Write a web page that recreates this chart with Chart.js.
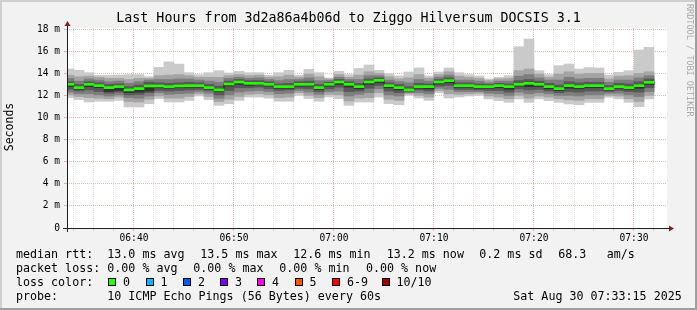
<!DOCTYPE html>
<html><head><meta charset="utf-8">
<script src="https://cdn.jsdelivr.net/npm/chart.js@4.4.1/dist/chart.umd.min.js"></script>
<style>html,body{margin:0;padding:0;background:#f2f2f2}canvas{display:block}</style>
</head><body>
<canvas id="c" width="697" height="310"></canvas>
<script>
// ---- data (ms) ----
const minutes = ['06:33','06:34','06:35','06:36','06:37','06:38','06:39','06:40','06:41','06:42',
 '06:43','06:44','06:45','06:46','06:47','06:48','06:49','06:50','06:51','06:52',
 '06:53','06:54','06:55','06:56','06:57','06:58','06:59','07:00','07:01','07:02',
 '07:03','07:04','07:05','07:06','07:07','07:08','07:09','07:10','07:11','07:12',
 '07:13','07:14','07:15','07:16','07:17','07:18','07:19','07:20','07:21','07:22',
 '07:23','07:24','07:25','07:26','07:27','07:28','07:29','07:30','07:31'];
const median = [13.06,12.76,13.06,12.94,12.76,12.85,12.55,12.67,12.91,12.91,
 12.85,12.91,12.94,12.94,12.76,12.55,13.09,13.27,13.15,13.15,
 13.06,12.85,12.85,13.06,13.06,12.76,13.06,13.27,13.06,12.85,
 13.27,13.42,12.94,12.76,12.55,12.85,12.85,13.27,13.39,12.94,
 12.94,12.85,12.85,12.94,12.85,13.06,13.15,13.06,12.85,12.67,
 12.94,12.85,12.94,12.94,12.67,12.85,12.76,12.94,13.24];
const ping1 = [11.85,11.67,11.45,11.52,11.52,11.60,11.00,11.00,11.30,11.76,
 11.45,11.45,11.60,12.00,11.67,11.15,11.30,11.60,11.90,11.90,
 11.80,11.52,11.52,12.06,11.76,11.52,11.91,11.76,11.15,11.45,
 11.45,11.91,11.30,11.20,12.06,11.82,11.60,12.30,11.82,11.91,
 12.00,12.06,11.73,11.58,11.42,11.73,11.42,11.73,11.58,11.42,
 11.27,11.21,11.42,11.42,11.88,11.73,11.42,11.03,11.73];
const ping2 = [12.10,11.95,11.85,11.80,11.75,11.90,11.50,11.45,11.70,12.00,
 11.80,11.80,11.95,12.20,11.95,11.50,11.70,11.95,12.15,12.20,
 12.10,11.85,11.90,12.30,12.05,11.85,12.15,12.10,11.55,11.80,
 11.85,12.30,11.70,11.60,12.20,12.05,11.90,12.50,12.20,12.15,
 12.20,12.25,12.00,11.90,11.75,12.05,11.80,12.00,11.90,11.75,
 11.65,11.60,11.75,11.75,12.05,12.00,11.75,11.50,12.05];
const ping3 = [12.35,12.20,12.20,12.10,12.00,12.10,11.85,11.80,12.00,12.30,
 12.15,12.20,12.25,12.40,12.25,11.80,12.10,12.35,12.45,12.50,
 12.40,12.20,12.25,12.50,12.35,12.15,12.40,12.45,12.00,12.15,
 12.30,12.65,12.10,12.00,12.30,12.30,12.20,12.70,12.60,12.40,
 12.40,12.40,12.25,12.20,12.05,12.35,12.20,12.30,12.20,12.05,
 12.05,12.00,12.10,12.10,12.25,12.25,12.10,11.95,12.40];
const ping4 = [12.60,12.45,12.55,12.40,12.25,12.35,12.10,12.15,12.30,12.50,
 12.45,12.50,12.55,12.60,12.50,12.10,12.50,12.75,12.75,12.80,
 12.65,12.50,12.55,12.70,12.65,12.40,12.65,12.80,12.40,12.45,
 12.70,12.95,12.45,12.30,12.40,12.55,12.45,12.90,12.95,12.60,
 12.60,12.55,12.50,12.50,12.35,12.65,12.55,12.60,12.45,12.30,
 12.40,12.35,12.45,12.45,12.40,12.50,12.40,12.35,12.75];
const ping5 = [12.85,12.62,12.85,12.75,12.40,12.50,12.30,12.35,12.45,12.75,
 12.70,12.75,12.80,12.80,12.62,12.40,12.90,13.05,12.95,13.00,
 12.90,12.70,12.70,12.90,12.90,12.60,12.90,13.05,12.80,12.65,
 13.05,13.20,12.75,12.55,12.48,12.70,12.65,13.10,13.20,12.80,
 12.80,12.70,12.70,12.75,12.60,12.90,12.85,12.85,12.65,12.50,
 12.70,12.65,12.75,12.75,12.55,12.70,12.60,12.70,13.05];
const ping6 = [13.10,12.80,13.10,12.98,12.80,12.88,12.58,12.70,12.95,12.95,
 12.90,12.95,12.98,12.98,12.80,12.60,13.12,13.30,13.18,13.18,
 13.10,12.88,12.88,13.10,13.10,12.80,13.10,13.30,13.10,12.88,
 13.30,13.45,12.98,12.80,12.58,12.88,12.88,13.30,13.42,12.98,
 12.98,12.88,12.88,12.98,12.88,13.10,13.18,13.10,12.88,12.70,
 12.98,12.88,12.98,12.98,12.70,12.88,12.80,12.98,13.28];
const ping7 = [13.30,13.05,13.30,13.20,13.05,13.10,12.85,13.00,13.25,13.20,
 13.15,13.20,13.25,13.20,13.05,12.90,13.35,13.50,13.40,13.40,
 13.30,13.10,13.15,13.30,13.35,13.05,13.25,13.50,13.30,13.15,
 13.55,13.65,13.20,13.05,12.85,13.15,13.10,13.50,13.65,13.20,
 13.20,13.10,13.05,13.15,13.10,13.40,13.50,13.35,13.15,13.00,
 13.30,13.20,13.25,13.25,12.95,13.15,13.10,13.30,13.55];
const ping8 = [13.60,13.35,13.55,13.45,13.30,13.35,13.15,13.30,13.45,13.50,
 13.50,13.55,13.55,13.45,13.35,13.25,13.60,13.70,13.60,13.65,
 13.50,13.40,13.50,13.50,13.65,13.40,13.40,13.70,13.50,13.50,
 13.85,13.85,13.45,13.30,13.20,13.50,13.35,13.70,13.90,13.45,
 13.45,13.35,13.20,13.35,13.35,13.80,13.95,13.65,13.45,13.45,
 13.70,13.55,13.60,13.60,13.25,13.45,13.45,13.65,13.85];
const ping9 = [13.90,13.75,13.80,13.70,13.60,13.60,13.50,13.60,13.60,13.85,
 13.90,13.95,13.85,13.70,13.70,13.70,13.85,13.95,13.85,13.90,
 13.70,13.75,13.90,13.70,14.00,13.75,13.55,13.95,13.70,13.90,
 14.20,14.05,13.75,13.55,13.65,13.95,13.60,13.95,14.20,13.80,
 13.70,13.60,13.40,13.55,13.60,14.30,14.45,14.00,13.70,14.00,
 14.20,14.00,14.05,14.05,13.55,13.80,13.85,14.05,14.20];
const ping10 = [14.45,14.33,14.12,13.88,13.88,13.90,13.94,13.94,13.75,14.60,
 15.10,14.90,14.12,13.94,14.12,14.30,14.09,14.24,14.12,14.12,
 13.88,14.12,14.33,13.88,14.42,14.12,13.64,14.24,13.94,14.50,
 14.82,14.33,14.03,13.82,14.18,14.55,13.82,14.18,14.55,14.12,
 13.94,13.82,13.55,13.70,13.85,16.48,17.18,14.30,13.94,14.76,
 14.91,14.45,14.58,14.55,13.90,14.15,14.30,16.18,16.42];

const xTickLabels = ['06:40','06:50','07:00','07:10','07:20','07:30'];
const yTickValues = [2,4,6,8,10,12,14,16,18,0];
const yTickLabels = ['2 m','4 m','6 m','8 m','10 m','12 m','14 m','16 m','18 m','0'];
const windowStart = '06:33:18';
const windowMinutes = 60;
const yMax = 18.18;

const titleText = 'Last Hours from 3d2a86a4b06d to Ziggo Hilversum DOCSIS 3.1';
const rttRow = ['median rtt:','13.0 ms avg','13.5 ms max','12.6 ms min','13.2 ms now','0.2 ms sd','68.3','am/s'];
const lossRow = ['packet loss:','0.00 % avg','0.00 % max','0.00 % min','0.00 % now'];
const lossLabels = ['0','1','2','3','4','5','6-9','10/10'];
const lossColors = ['#26ff00','#00b8ff','#0059ff','#7e00ff','#ff00ea','#ff5500','#ff0000','#a10000'];
const probeRow = ['probe:','10 ICMP Echo Pings (56 Bytes) every 60s','Sat Aug 30 07:33:15 2025'];

// ---- helpers ----
const toMin = s => { const p = s.split(':').map(Number); return p[0]*60 + p[1] + (p[2]||0)/60; };
const xMin = toMin(windowStart), xMax = xMin + windowMinutes;
const centers = minutes.map(m => toMin(m) + 0.5);
const xGrid = [];
for (let t = Math.ceil(xMin/2)*2; t < xMax; t += 2) xGrid.push(t);
const xLabelMap = {};
xTickLabels.forEach(l => { xLabelMap[Math.round(toMin(l))] = l; });
const yLabelMap = {};
yTickValues.forEach((v,i) => { yLabelMap[v] = yTickLabels[i]; });
const yGrid = [];
for (let v = 0; v <= Math.floor(yMax); v++) yGrid.push(v);

const GRID = 'rgba(143,143,143,0.32)';
const MGRID = 'rgba(222,79,79,0.42)';
const FONT = '"DejaVu Sans Mono", monospace';
const MEDIAN_HALF = 0.09;

const band = (lo, hi, color, order) => ({
  type: 'bar', grouped: false, barPercentage: 1, categoryPercentage: 1,
  borderWidth: 0, clip: 0, backgroundColor: color, order,
  data: centers.map((x, i) => ({ x, y: [lo[i], hi[i]] }))
});

const datasets = [
  band(ping1, ping10, '#cacaca', 10),
  band(ping2, ping9, '#a4a4a4', 9),
  band(ping3, ping8, '#7e7e7e', 8),
  band(ping4, ping7, '#585858', 7),
  band(ping5, ping6, '#323232', 6),
  { type: 'line', order: 2, stepped: 'middle', borderColor: '#202020', borderWidth: 1,
    pointRadius: 0, fill: false, data: centers.map((x, i) => ({ x, y: median[i] })) },
  { type: 'bar', order: 1, grouped: false, barPercentage: 1, categoryPercentage: 1,
    borderWidth: 0, clip: 0, backgroundColor: '#26ff00',
    data: centers.map((x, i) => ({ x, y: [median[i] - MEDIAN_HALF, median[i] + MEDIAN_HALF] })) }
];

const decor = {
  id: 'decor',
  beforeDraw(chart) {
    const c = chart.ctx, a = chart.chartArea, W = chart.width, H = chart.height;
    c.save();
    c.fillStyle = '#f2f2f2'; c.fillRect(0, 0, W, H);
    c.fillStyle = '#cfcfcf'; c.fillRect(0, 0, W, 2); c.fillRect(0, 0, 2, H);
    c.fillStyle = '#9e9e9e'; c.fillRect(0, H-2, W, 2); c.fillRect(W-2, 0, 2, H);
    c.fillStyle = '#ffffff'; c.fillRect(a.left, a.top, a.right - a.left, a.bottom - a.top);
    c.restore();
  },
  afterDraw(chart) {
    const c = chart.ctx, a = chart.chartArea;
    c.save();
    // axes
    c.strokeStyle = '#1f1f1f'; c.lineWidth = 1;
    c.beginPath();
    c.moveTo(a.left - 4, a.bottom + 0.5); c.lineTo(a.right + 4, a.bottom + 0.5);
    c.moveTo(a.left + 0.5, a.bottom + 4); c.lineTo(a.left + 0.5, a.top - 4);
    c.stroke();
    c.fillStyle = '#801f1f';
    c.beginPath();
    c.moveTo(a.right + 2, a.bottom - 2.5); c.lineTo(a.right + 2, a.bottom + 3.5); c.lineTo(a.right + 7, a.bottom + 0.5); c.closePath(); c.fill();
    c.beginPath();
    c.moveTo(a.left - 2.5, a.top - 2); c.lineTo(a.left + 3.5, a.top - 2); c.lineTo(a.left + 0.5, a.top - 7); c.closePath(); c.fill();
    // title
    c.fillStyle = '#000';
    c.font = '13.3px ' + FONT; c.textAlign = 'center'; c.textBaseline = 'alphabetic';
    c.fillText(titleText, chart.width / 2, 22);
    // y title
    c.save(); c.translate(10.5, 127); c.rotate(-Math.PI/2);
    c.font = '11.5px ' + FONT; c.textBaseline = 'middle'; c.fillText('Seconds', 0, 0);
    c.restore();
    // watermark
    c.save(); c.translate(689, 4); c.rotate(Math.PI/2);
    c.font = '8.5px ' + FONT; c.textAlign = 'left'; c.textBaseline = 'middle'; c.fillStyle = '#a8a8a8';
    c.fillText('RRDTOOL / TOBI OETIKER', 0, 0);
    c.restore();
    // legend
    c.font = '11.67px ' + FONT; c.textAlign = 'left'; c.textBaseline = 'alphabetic'; c.fillStyle = '#000';
    const r1x = [16, 107.3, 200.3, 293.3, 386.7, 479.3, 558.3, 606.7];
    rttRow.forEach((t, i) => c.fillText(t, r1x[i], 258));
    const r2x = [16, 107.3, 193.3, 279.3, 366];
    lossRow.forEach((t, i) => c.fillText(t, r2x[i], 272));
    c.fillText('loss color:', 16, 286);
    const bx = [108, 145.5, 183, 220, 257, 294.5, 332, 381.5];
    lossLabels.forEach((t, i) => {
      const x = Math.round(bx[i]);
      c.fillStyle = '#000'; c.fillRect(x, 278, 8, 8);
      c.fillStyle = lossColors[i]; c.fillRect(x + 1, 279, 6, 6);
      c.fillStyle = '#000'; c.fillText(t, bx[i] + 15, 286);
    });
    c.fillText(probeRow[0], 16, 300);
    c.fillText(probeRow[1], 107.3, 300);
    c.fillText(probeRow[2], 513.3, 300);
    c.restore();
  }
};

new Chart(document.getElementById('c'), {
  type: 'bar',
  data: { datasets },
  options: {
    responsive: false, animation: false,
    layout: { padding: { top: 28, right: 30, bottom: 0, left: 0 } },
    plugins: { legend: { display: false }, tooltip: { enabled: false }, title: { display: false } },
    scales: {
      x: {
        type: 'linear', min: xMin, max: xMax, offset: false, z: 1,
        afterBuildTicks: s => { s.ticks = xGrid.map(v => ({ value: v })); },
        afterFit: s => { s.height = 82; },
        ticks: { autoSkip: false, maxRotation: 0, minRotation: 0, padding: 2, color: '#000',
          font: { family: FONT, size: 9.6 }, callback: v => xLabelMap[Math.round(v)] || '' },
        grid: { offset: false, lineWidth: 1, tickLength: 3,
          color: c => (c.tick && Math.round(c.tick.value) % 10 === 0) ? MGRID : GRID,
          tickColor: c => (c.tick && Math.round(c.tick.value) % 10 === 0) ? MGRID : GRID },
        border: { display: false, dash: [1, 1] }
      },
      y: {
        type: 'linear', min: 0, max: yMax, z: 1,
        afterBuildTicks: s => { s.ticks = yGrid.map(v => ({ value: v })); },
        afterFit: s => { s.width = 67; },
        ticks: { padding: 4, color: '#000', font: { family: FONT, size: 9.6 },
          callback: v => (yLabelMap[v] !== undefined ? yLabelMap[v] : '') },
        grid: { lineWidth: 1, tickLength: 3,
          color: c => (c.tick && c.tick.value % 2 === 0) ? MGRID : GRID,
          tickColor: c => (c.tick && c.tick.value % 2 === 0) ? MGRID : GRID },
        border: { display: false, dash: [1, 1] }
      }
    }
  },
  plugins: [decor]
});
</script>
</body></html>
